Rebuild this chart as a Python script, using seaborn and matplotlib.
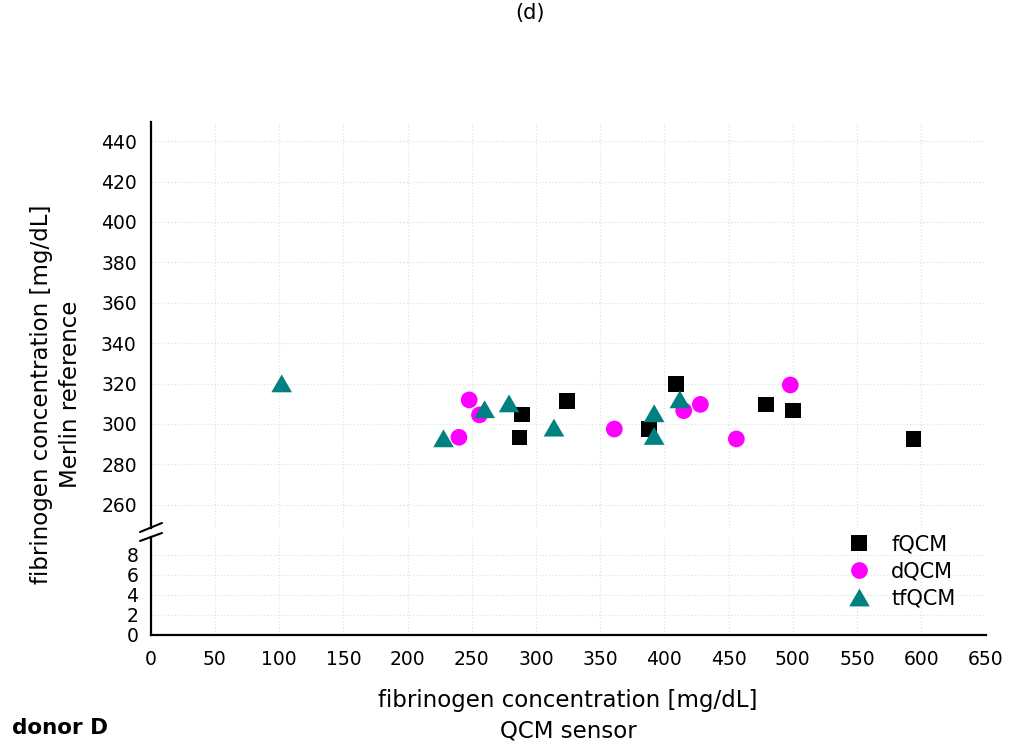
import numpy as np
import pandas as pd
import matplotlib
matplotlib.use("Agg")
import matplotlib.pyplot as plt
from matplotlib.lines import Line2D
from matplotlib.ticker import MultipleLocator, FixedLocator
import seaborn as sns

# ---- data ----
fqcm_x = [287, 289, 324, 388, 409, 479, 500, 594]
fqcm_y = [293.4, 304.8, 311.5, 297.5, 319.8, 309.7, 306.6, 292.6]
dqcm_x = [240, 248, 256, 361, 415, 428, 456, 498]
dqcm_y = [293.4, 311.9, 304.5, 297.5, 306.6, 309.7, 292.6, 319.3]
tfqcm_x = [102, 228, 260, 279, 314, 392, 392, 412]
tfqcm_y = [320.1, 292.9, 307.3, 310.2, 298.2, 305.3, 294.1, 312.2]
series_names = ["fQCM", "dQCM", "tfQCM"]

x_ticks = list(range(0, 651, 50))
upper_ticks = list(range(260, 441, 20))
lower_ticks = [0, 2, 4, 6, 8]

sns.set_theme(style="white")
plt.rcParams["font.family"] = ["DejaVu Sans"]
plt.rcParams["text.color"] = "black"

W, H = 1014, 753
fig = plt.figure(figsize=(W / 100, H / 100), dpi=100)
fig.patch.set_facecolor("white")

def px_axes(left, top, right, bottom):
    return fig.add_axes([left / W, 1 - bottom / H, (right - left) / W, (bottom - top) / H])

ax_top = px_axes(150.7, 122, 985.5, 528)
ax_bot = px_axes(150.7, 537, 985.5, 635)

tri = [(-1, -0.866), (1, -0.866), (0, 0.866)]
styles = {
    "fQCM": dict(color="black", marker="s", s=125),
    "dQCM": dict(color="#ff00ff", marker="o", s=145),
    "tfQCM": dict(color="#008080", marker=tri, s=220),
}
data = {"fQCM": (fqcm_x, fqcm_y), "dQCM": (dqcm_x, dqcm_y), "tfQCM": (tfqcm_x, tfqcm_y)}

for name in series_names:
    xs, ys = data[name]
    df = pd.DataFrame({"x": xs, "y": ys})
    st = styles[name]
    sns.scatterplot(data=df, x="x", y="y", ax=ax_top, color=st["color"], marker=st["marker"],
                    s=st["s"], edgecolor="none", linewidth=0, label=name, zorder=3)

for ax in (ax_top, ax_bot):
    ax.set_xlim(0, 650)
    ax.set_facecolor("white")
    ax.xaxis.set_major_locator(FixedLocator(x_ticks))
    ax.xaxis.set_minor_locator(MultipleLocator(25))
    ax.grid(True, which="major", color="#dce4e4", linestyle=":", linewidth=0.9)
    for sp in ("top", "right"):
        ax.spines[sp].set_visible(False)
    ax.spines["left"].set_linewidth(1.6)
    ax.spines["left"].set_color("black")
    ax.spines["bottom"].set_linewidth(1.6)
    ax.spines["bottom"].set_color("black")
    ax.tick_params(axis="both", which="major", direction="out", length=6, width=1.5,
                   labelsize=13.5, colors="black", pad=4)
    ax.tick_params(axis="both", which="minor", direction="out", length=3.5, width=1.5,
                   colors="black")
    ax.set_xlabel("")
    ax.set_ylabel("")

ax_top.set_ylim(248.5, 449.5)
ax_top.yaxis.set_major_locator(FixedLocator(upper_ticks))
ax_top.yaxis.set_minor_locator(FixedLocator(list(range(270, 441, 20))))
ax_top.spines["bottom"].set_visible(False)
ax_top.tick_params(axis="x", which="both", bottom=False, labelbottom=False)
ax_top.legend_.remove()

ax_bot.set_ylim(0, 9.8)
ax_bot.yaxis.set_major_locator(FixedLocator(lower_ticks))
ax_bot.yaxis.set_minor_locator(FixedLocator([1, 3, 5, 7, 9]))
ax_bot.tick_params(axis="x", which="major", pad=5)
ax_bot.tick_params(axis="y", which="major", pad=3)

# axis break marks
for (x0, y0, x1, y1) in [(140, 532, 162, 523), (140, 541, 162, 533)]:
    fig.add_artist(Line2D([x0 / W, x1 / W], [1 - y0 / H, 1 - y1 / H], color="black",
                          linewidth=1.5, transform=fig.transFigure))

# legend
handles = [Line2D([], [], linestyle="none", marker=styles[n]["marker"], color=styles[n]["color"],
                  markersize=np.sqrt(styles[n]["s"]), markeredgewidth=0) for n in series_names]
leg = fig.legend(handles, series_names, loc="upper left", bbox_to_anchor=(839 / W, 1 - 526 / H),
                 frameon=False, fontsize=15, handletextpad=1.0, labelspacing=0.34,
                 borderaxespad=0, handlelength=1.1)
for t in leg.get_texts():
    t.set_color("black")

# labels
fig.text(568 / W, 1 - 716 / H, "fibrinogen concentration [mg/dL]\nQCM sensor", ha="center",
         va="center", fontsize=16.5, linespacing=1.4, color="black")
fig.text(56 / W, 1 - 394 / H, "fibrinogen concentration [mg/dL]\nMerlin reference", ha="center",
         va="center", rotation=90, fontsize=16.5, linespacing=1.3, color="black")
fig.text(12 / W, 1 - 728 / H, "donor D", ha="left", va="center", fontsize=15.5,
         fontweight="bold", color="black")
fig.text(530 / W, 1 - 3 / H, "(d)", ha="center", va="top", fontsize=15, color="black")

fig.savefig("out.png", dpi=100, facecolor="white")
